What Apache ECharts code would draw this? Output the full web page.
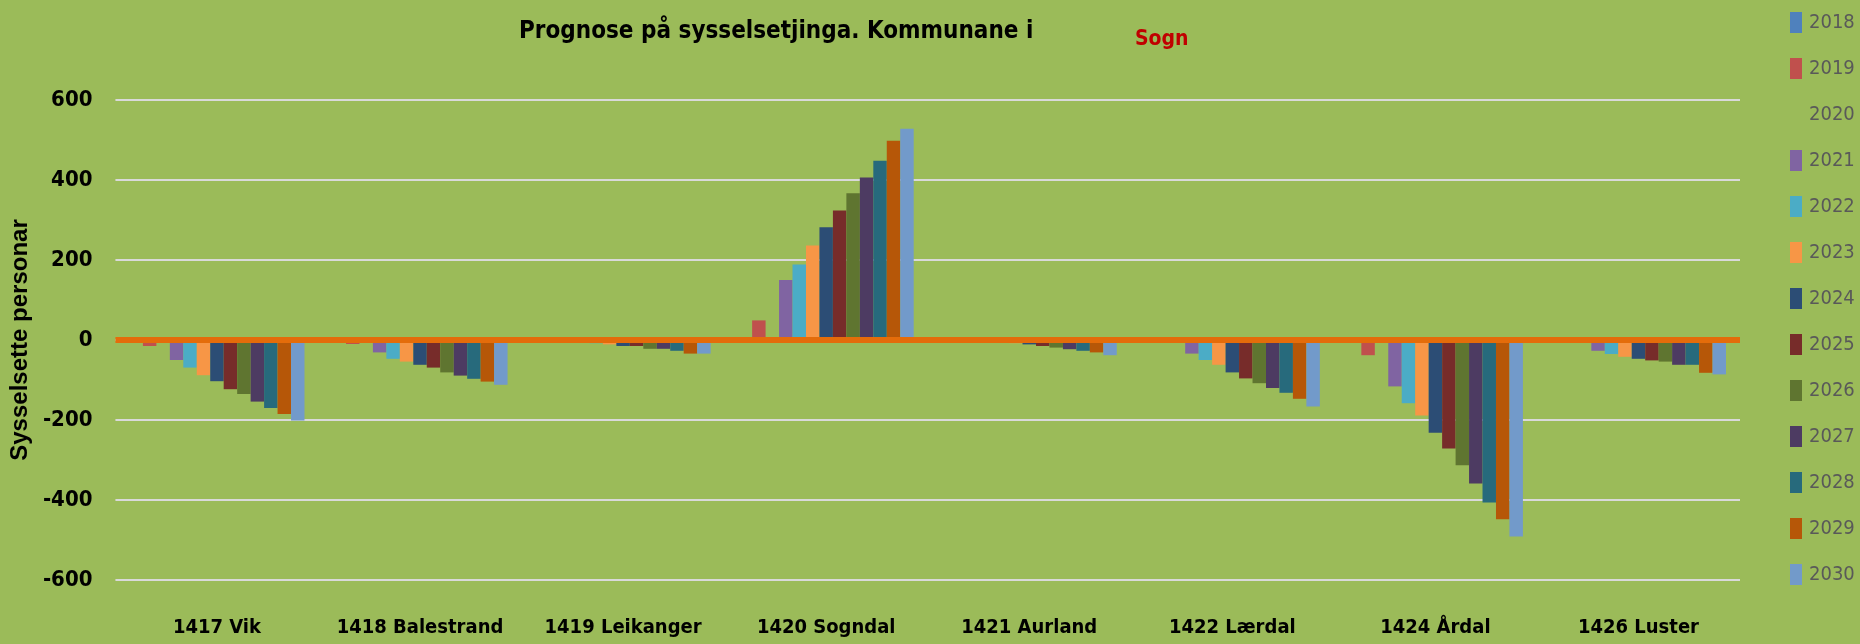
<!DOCTYPE html>
<html>
<head>
<meta charset="utf-8">
<script src="https://cdn.jsdelivr.net/npm/echarts@6/dist/echarts.min.js"></script>
<style>html,body{margin:0;padding:0;background:#9BBB59;}#c{width:1860px;height:644px;}</style>
</head>
<body>
<div id="c"></div>
<script>
const categories = ['1417 Vik','1418 Balestrand','1419 Leikanger','1420 Sogndal','1421 Aurland','1422 Lærdal','1424 Årdal','1426 Luster'];
const years = ['2018','2019','2020','2021','2022','2023','2024','2025','2026','2027','2028','2029','2030'];
const yTicks = [-600,-400,-200,0,200,400,600];

const v2018 = [0,0,0,0,0,0,0,0];
const v2019 = [-15,-10,-3,49,-3,-3,-38,-3];
const v2020 = [null,null,null,null,null,null,null,null];
const v2021 = [-50,-31,-5,150,-3,-34,-116,-27];
const v2022 = [-69,-47,-8,189,-5,-50,-158,-35];
const v2023 = [-88,-54,-11,236,-8,-62,-189,-42];
const v2024 = [-103,-62,-15,282,-11,-81,-232,-47];
const v2025 = [-123,-69,-15,324,-15,-96,-271,-51];
const v2026 = [-135,-81,-22,367,-19,-108,-313,-54];
const v2027 = [-154,-89,-22,406,-23,-120,-359,-62];
const v2028 = [-170,-97,-27,448,-27,-132,-406,-62];
const v2029 = [-185,-104,-34,498,-31,-147,-448,-82];
const v2030 = [-201,-112,-34,528,-38,-166,-491,-86];

const values = [v2018,v2019,v2020,v2021,v2022,v2023,v2024,v2025,v2026,v2027,v2028,v2029,v2030];
const colors = ['#4F81BD','#C0504D','#9BBB59','#8064A2','#4BACC6','#F79646','#2C4D75','#772C2A','#5F7530','#4D3B62','#276A7C','#B65708','#729ACA'];

const NARROW = "'DejaVu Sans Condensed','Liberation Sans',sans-serif";

const series = years.map((y,i)=>{
  const s = {
    name: y, type: 'bar', data: values[i],
    barGap: '0%', barCategoryGap: '13.8%',
    itemStyle: {color: colors[i]},
    z: 2
  };
  if (i === years.length-1) {
    s.z = 3;
    s.markLine = {
      silent: true, symbol: ['none','none'], label: {show:false},
      lineStyle: {color:'#E46C0A', width:6, type:'solid'},
      data: [{yAxis: 0}]
    };
  }
  return s;
});

const chart = echarts.init(document.getElementById('c'), null, {renderer:'canvas'});
chart.setOption({
  animation: false,
  backgroundColor: '#9BBB59',
  title: [
    {text:'Prognose på sysselsetjinga. Kommunane i', left:514, top:15,
     textStyle:{fontFamily:NARROW, fontWeight:'bold', fontSize:24, color:'#000'}},
    {text:'Sogn', left:1130, top:24,
     textStyle:{fontFamily:NARROW, fontWeight:'bold', fontSize:21, color:'#C00000'}}
  ],
  legend: {
    data: years, orient:'vertical', left:1790, top:12, padding:0,
    itemWidth:12, itemHeight:21, itemGap:25,
    icon:'rect',
    textStyle:{fontFamily:NARROW, fontSize:20, color:'#595959', padding:[0,0,0,2]}
  },
  grid: {left:112, right:120, top:100, bottom:64, containLabel:false},
  xAxis: {
    type:'category', data: categories,
    axisLine:{show:false, onZero:false},
    axisTick:{show:false},
    axisLabel:{margin:38, fontFamily:NARROW, fontWeight:'bold', fontSize:20, color:'#000', interval:0}
  },
  yAxis: {
    type:'value', min:yTicks[0], max:yTicks[yTicks.length-1], interval:200,
    name:'Sysselsette personar', nameLocation:'middle', nameGap:75, nameRotate:90,
    nameTextStyle:{fontFamily:"'Liberation Sans',Arial,sans-serif", fontWeight:'bold', fontSize:24, color:'#000'},
    axisLine:{show:false}, axisTick:{show:false},
    axisLabel:{margin:23, fontFamily:NARROW, fontWeight:'bold', fontSize:22, color:'#000'},
    splitLine:{lineStyle:{color:'#D9D9D9', width:2}}
  },
  series: series
});
</script>
</body>
</html>
